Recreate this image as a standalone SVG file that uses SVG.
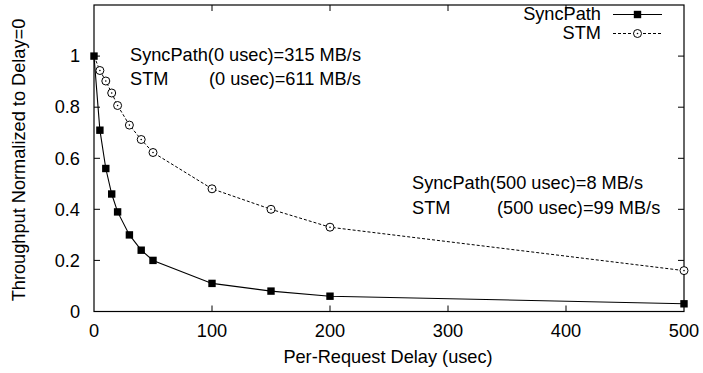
<svg xmlns="http://www.w3.org/2000/svg" width="703" height="373" viewBox="0 0 703 373">
  <style>
    text { font-family: "Liberation Sans", Arial, sans-serif; font-size: 18.2px; fill: #000; }
    .end { text-anchor: end; }
    .mid { text-anchor: middle; }
    .frame { fill: none; stroke: #000; stroke-width: 1.2; }
    .tick { stroke: #000; stroke-width: 1; }
    .sync { fill: none; stroke: #000; stroke-width: 1.1; }
    .stm { fill: none; stroke: #000; stroke-width: 1; stroke-dasharray: 3 2; }
  </style>
  <defs>
    <rect id="sq" x="-3.7" y="-3.7" width="7.4" height="7.4" fill="#000"/>
    <g id="ci">
      <circle r="4" fill="#fff" stroke="#000" stroke-width="1"/>
      <circle r="0.8" fill="#000"/>
    </g>
  </defs>

  <rect width="703" height="373" fill="#fff"/>

  <!-- plot frame and ticks -->
  <g id="axes">
    <rect class="frame" x="94" y="5" width="590" height="306.5"/>
    <g class="tick">
      <!-- y ticks, left and right -->
      <path d="M94 260.4h6M94 209.3h6M94 158.3h6M94 107.2h6M94 56.1h6"/>
      <path d="M684 260.4h-6M684 209.3h-6M684 158.3h-6M684 107.2h-6M684 56.1h-6"/>
      <!-- x ticks, bottom and top -->
      <path d="M212 311.5v-6M330 311.5v-6M448 311.5v-6M566 311.5v-6"/>
      <path d="M212 5v6M330 5v6M448 5v6M566 5v6"/>
    </g>
    <g id="ylabels">
      <text class="end" x="80" y="318">0</text>
      <text class="end" x="80" y="266.6">0.2</text>
      <text class="end" x="80" y="215.5">0.4</text>
      <text class="end" x="80" y="164.5">0.6</text>
      <text class="end" x="80" y="113.4">0.8</text>
      <text class="end" x="80" y="62.3">1</text>
    </g>
    <g id="xlabels">
      <text class="mid" x="94" y="337">0</text>
      <text class="mid" x="212" y="337">100</text>
      <text class="mid" x="330" y="337">200</text>
      <text class="mid" x="448" y="337">300</text>
      <text class="mid" x="566" y="337">400</text>
      <text class="mid" x="684" y="337">500</text>
    </g>
    <text id="xtitle" class="mid" x="388" y="363">Per-Request Delay (usec)</text>
    <text id="ytitle" class="mid" transform="translate(24.5 160) rotate(-90)">Throughput Normalized to Delay=0</text>
  </g>

  <!-- data series -->
  <g id="connectors">
    <polyline id="stm-line" class="stm" points="94,56.1 99.9,70.5 105.8,81 111.7,93 117.6,105.5 129.4,125.1 141.2,139.5 153,152.5 212,188.8 271,209.3 330,227.2 684,270.6"/>
    <polyline id="sync-line" class="sync" points="94,56.1 99.9,130.2 105.8,168.5 111.7,194 117.6,211.9 129.4,234.9 141.2,250.2 153,260.4 212,283.4 271,291.1 330,296.2 684,303.8"/>
  </g>

  <g id="stm-points">
    <use href="#ci" x="99.9" y="70.5"/>
    <use href="#ci" x="105.8" y="81"/>
    <use href="#ci" x="111.7" y="93"/>
    <use href="#ci" x="117.6" y="105.5"/>
    <use href="#ci" x="129.4" y="125.1"/>
    <use href="#ci" x="141.2" y="139.5"/>
    <use href="#ci" x="153" y="152.5"/>
    <use href="#ci" x="212" y="188.8"/>
    <use href="#ci" x="271" y="209.3"/>
    <use href="#ci" x="330" y="227.2"/>
    <use href="#ci" x="684" y="270.6"/>
  </g>

  <g id="sync-points">
    <use href="#sq" x="94" y="56.1"/>
    <use href="#sq" x="99.9" y="130.2"/>
    <use href="#sq" x="105.8" y="168.5"/>
    <use href="#sq" x="111.7" y="194"/>
    <use href="#sq" x="117.6" y="211.9"/>
    <use href="#sq" x="129.4" y="234.9"/>
    <use href="#sq" x="141.2" y="250.2"/>
    <use href="#sq" x="153" y="260.4"/>
    <use href="#sq" x="212" y="283.4"/>
    <use href="#sq" x="271" y="291.1"/>
    <use href="#sq" x="330" y="296.2"/>
    <use href="#sq" x="684" y="303.8"/>
  </g>

  <!-- legend -->
  <g id="legend">
    <text class="end" x="601" y="20">SyncPath</text>
    <path class="sync" d="M613 14.5H662"/>
    <use href="#sq" x="637.5" y="14.5"/>
    <text class="end" x="601" y="39">STM</text>
    <path class="stm" d="M613 33.5H662"/>
    <use href="#ci" x="637.5" y="33.5"/>
  </g>

  <!-- annotations -->
  <g id="note-zero">
    <text x="130" y="61">SyncPath(0 usec)=315 MB/s</text>
    <text x="130" y="85">STM</text>
    <text x="209" y="85">(0 usec)=611 MB/s</text>
  </g>
  <g id="note-500">
    <text x="412" y="189">SyncPath(500 usec)=8 MB/s</text>
    <text x="412" y="214">STM</text>
    <text x="497" y="214">(500 usec)=99 MB/s</text>
  </g>
</svg>
